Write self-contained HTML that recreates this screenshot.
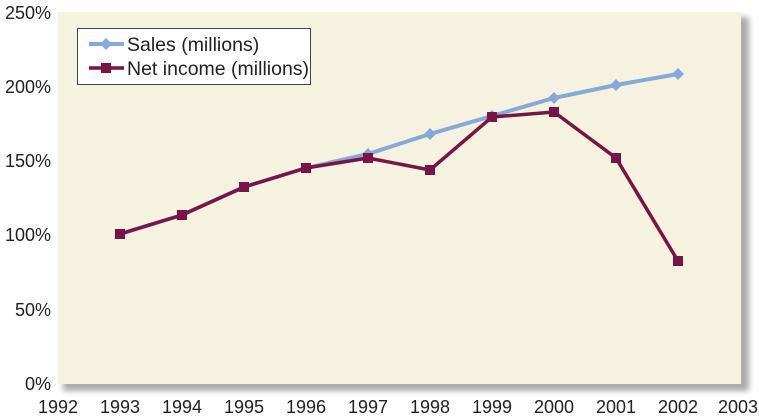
<!DOCTYPE html>
<html><head><style>body{margin:0;background:#fff}svg{display:block}text{font-family:"Liberation Sans",sans-serif;font-size:18px;fill:#222}.lg{font-size:19.5px}</style></head><body>
<svg width="759" height="416" viewBox="0 0 759 416">
<defs><filter id="b" x="-5%" y="-5%" width="110%" height="110%"><feGaussianBlur stdDeviation="3"/></filter></defs>
<rect x="63" y="17" width="686" height="374" fill="#aaa" filter="url(#b)"/>
<rect x="58" y="12" width="683" height="372" fill="#f5f2df"/>
<g text-anchor="end">
<text x="51" y="390">0%</text><text x="51" y="316">50%</text><text x="51" y="241">100%</text><text x="51" y="167">150%</text><text x="51" y="93">200%</text><text x="51" y="19">250%</text>
</g>
<g text-anchor="middle">
<text x="58" y="413">1992</text><text x="120" y="413">1993</text><text x="182" y="413">1994</text><text x="244" y="413">1995</text><text x="306" y="413">1996</text><text x="368" y="413">1997</text><text x="430" y="413">1998</text><text x="492" y="413">1999</text><text x="554" y="413">2000</text><text x="616" y="413">2001</text><text x="678" y="413">2002</text><text x="738" y="413">2003</text>
</g>
<polyline fill="none" stroke="#85a9d9" stroke-width="4" points="120,234 182,215 244,187 306,168 368,154 430,134 492,116 554,98 616,85 678,74"/>
<g fill="#85a9d9">
<path d="M368,148l6,6-6,6-6-6z"/><path d="M430,128l6,6-6,6-6-6z"/><path d="M492,110l6,6-6,6-6-6z"/><path d="M554,92l6,6-6,6-6-6z"/><path d="M616,79l6,6-6,6-6-6z"/><path d="M678,68l6,6-6,6-6-6z"/>
</g>
<polyline fill="none" stroke="#7a1446" stroke-width="3.5" points="120,234 182,215 244,187 306,168 368,158 430,170 492,117 554,112 616,158 678,261"/>
<g fill="#7a1446">
<rect x="115" y="229" width="10" height="10"/><rect x="177" y="210" width="10" height="10"/><rect x="239" y="182" width="10" height="10"/><rect x="301" y="163" width="10" height="10"/><rect x="363" y="153" width="10" height="10"/><rect x="425" y="165" width="10" height="10"/><rect x="487" y="112" width="10" height="10"/><rect x="549" y="107" width="10" height="10"/><rect x="611" y="153" width="10" height="10"/><rect x="673" y="256" width="10" height="10"/>
</g>
<rect x="77.5" y="28.5" width="233" height="56" fill="#fff" stroke="#444" stroke-width="1"/>
<line x1="89" y1="44" x2="124" y2="44" stroke="#85a9d9" stroke-width="4"/><path d="M106,38l6,6-6,6-6-6z" fill="#85a9d9"/>
<line x1="89" y1="68" x2="124" y2="68" stroke="#7a1446" stroke-width="3.5"/><rect x="101" y="63" width="10" height="10" fill="#7a1446"/>
<text class="lg" x="127" y="51">Sales (millions)</text>
<text class="lg" x="127" y="75">Net income (millions)</text>
</svg>
</body></html>
